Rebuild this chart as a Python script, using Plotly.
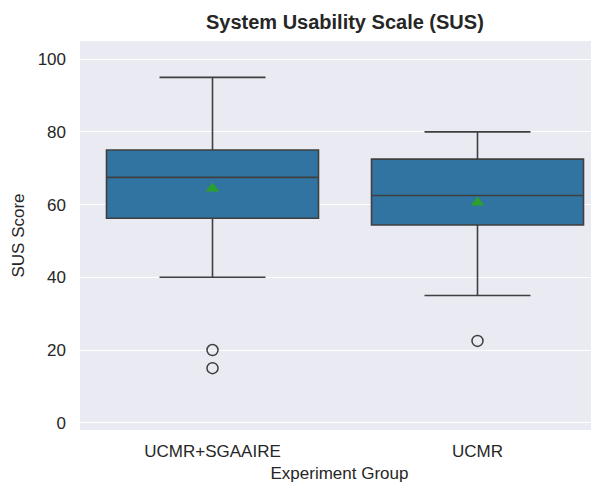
import plotly.graph_objects as go

# box statistics
groups = ["UCMR+SGAAIRE", "UCMR"]
lower_whisker = [40, 35]
q1 = [56.25, 54.4]
median = [67.5, 62.5]
q3 = [75, 72.5]
upper_whisker = [95, 80]
means = [64.4, 60.6]
outlier_groups = ["UCMR+SGAAIRE", "UCMR+SGAAIRE", "UCMR"]
outlier_values = [20, 15, 22.5]

BOX_COLOR = "#3274a1"
LINE_COLOR = "#3f3f3f"
TEXT_COLOR = "#262626"
FONT = "Arial, Liberation Sans, sans-serif"

fig = go.Figure()

fig.add_trace(go.Box(
    x=groups, q1=q1, median=median, q3=q3,
    lowerfence=lower_whisker, upperfence=upper_whisker,
    fillcolor=BOX_COLOR, line=dict(color=LINE_COLOR, width=1.6),
    whiskerwidth=0.5, width=0.8, boxpoints=False,
    showlegend=False, hoverinfo="skip"
))

# outliers
fig.add_trace(go.Scatter(
    x=outlier_groups, y=outlier_values, mode="markers",
    marker=dict(symbol="circle-open", size=11, color=LINE_COLOR, line=dict(width=1.5)),
    showlegend=False
))

# means
fig.add_trace(go.Scatter(
    x=groups, y=means, mode="markers",
    marker=dict(symbol="triangle-up", size=12, color="#2ca02c"),
    showlegend=False
))

# page body has an 8px margin, so the figure is 8px smaller than the window
fig.update_layout(
    width=591, height=475,
    margin=dict(l=72, r=0, t=33, b=53),
    paper_bgcolor="white", plot_bgcolor="#eaeaf2",
    font=dict(family=FONT, size=17, color=TEXT_COLOR),
    title=dict(text="<b>System Usability Scale (SUS)</b>", x=0.57, xanchor="center",
               y=0.9705, yanchor="middle", font=dict(size=20, color=TEXT_COLOR)),
    xaxis=dict(type="category", range=[-0.5, 1.4585], showgrid=False, zeroline=False,
               ticks="", ticklabelstandoff=9,
               title=dict(text="Experiment Group", standoff=9, font=dict(size=17))),
    yaxis=dict(range=[-2, 105], tickvals=[0, 20, 40, 60, 80, 100], gridcolor="white",
               gridwidth=1.3, zeroline=False, ticks="", ticklabelstandoff=13,
               title=dict(text="SUS Score", standoff=8, font=dict(size=17))),
)

fig.write_html("out.html")
